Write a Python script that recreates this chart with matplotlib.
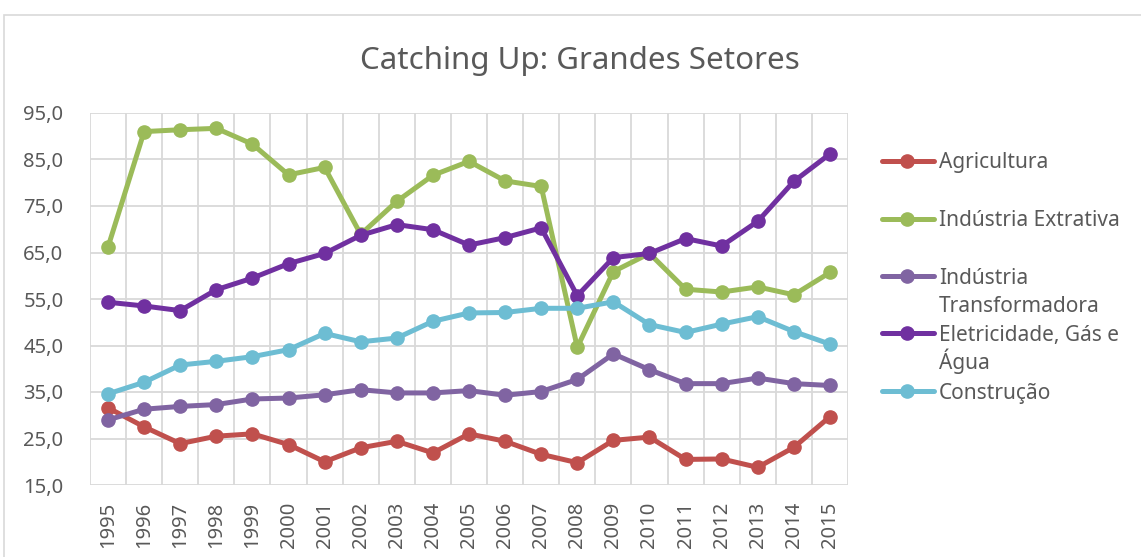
import matplotlib
matplotlib.use("Agg")
import matplotlib.pyplot as plt
from matplotlib.patches import Rectangle
from matplotlib.lines import Line2D

years = [str(y) for y in range(1995, 2016)]

agricultura = [31.6, 27.5, 23.9, 25.5, 26.0, 23.7, 20.0, 23.0, 24.4, 21.9, 26.0,
               24.4, 21.6, 19.8, 24.6, 25.3, 20.5, 20.6, 18.8, 23.1, 29.7]
extrativa = [66.2, 91.0, 91.4, 91.7, 88.3, 81.7, 83.3, 68.9, 76.0, 81.6, 84.6,
             80.4, 79.2, 44.6, 60.9, 64.8, 57.1, 56.5, 57.6, 55.9, 60.7]
transformadora = [29.0, 31.3, 31.9, 32.3, 33.5, 33.7, 34.4, 35.5, 34.8, 34.8, 35.3,
                  34.3, 35.1, 37.7, 43.2, 39.8, 36.8, 36.8, 38.0, 36.8, 36.4]
eletricidade = [54.3, 53.5, 52.5, 57.0, 59.5, 62.6, 64.8, 68.7, 71.0, 69.9, 66.6,
                68.2, 70.3, 55.7, 63.9, 64.8, 68.0, 66.4, 71.7, 80.3, 86.2]
construcao = [34.6, 37.1, 40.8, 41.6, 42.6, 44.1, 47.6, 45.8, 46.6, 50.2, 52.0,
              52.1, 53.0, 53.0, 54.4, 49.5, 47.8, 49.6, 51.2, 48.0, 45.3]

series_names = ["Agricultura", "Indústria Extrativa", "Indústria\nTransformadora",
                "Eletricidade, Gás e\nÁgua", "Construção"]
series_values = [agricultura, extrativa, transformadora, eletricidade, construcao]
colors = ["#C0504D", "#9BBB59", "#8064A2", "#7030A0", "#6DBDD3"]

yticks = [15, 25, 35, 45, 55, 65, 75, 85, 95]
ytick_labels = ["15,0", "25,0", "35,0", "45,0", "55,0", "65,0", "75,0", "85,0", "95,0"]

plt.rcParams['font.family'] = ['Noto Sans', 'DejaVu Sans']
text_color = "#595959"
grid_color = "#D9D9D9"

W, H = 1141, 557
fig = plt.figure(figsize=(W / 100, H / 100), dpi=100)
# outer chart border
fig.patches.append(Rectangle((4 / W, -0.1), 1.2, (H - 14.5) / H + 0.1,
                             transform=fig.transFigure, fill=False,
                             edgecolor=grid_color, linewidth=1.2))

ax = fig.add_axes([90 / W, (H - 485) / H, (848 - 90) / W, (485 - 113) / H])
x = list(range(len(years)))
for name, vals, c in zip(series_names, series_values, colors):
    ax.plot(x, vals, color=c, linewidth=3.6, marker='o', markersize=9.5,
            label=name, solid_capstyle='round', solid_joinstyle='round')

ax.set_xlim(-0.5, len(years) - 0.5)
ax.set_ylim(15, 95)
ax.set_yticks(yticks)
ax.set_yticklabels(ytick_labels)
ax.set_xticks(x)
ax.set_xticklabels(years, rotation=90)

for k in range(len(years) + 1):
    ax.axvline(k - 0.5, color=grid_color, linewidth=1.3, zorder=0)
for yv in yticks:
    ax.axhline(yv, color=grid_color, linewidth=1.3, zorder=0)

for s in ax.spines.values():
    s.set_visible(False)
ax.tick_params(axis='both', length=0, labelsize=14.5, colors=text_color)
ax.tick_params(axis='y', pad=19)
ax.tick_params(axis='x', pad=12)

fig.text(580 / W, 1 - 61 / H, "Catching Up: Grandes Setores", ha='center', va='center',
         fontsize=22.5, color=text_color)

# legend drawn manually (Excel-like spacing)
legend_first_line_y = [161, 219, 276, 333, 391]
line_step = 29
for name, c, yy in zip(series_names, colors, legend_first_line_y):
    yf = 1 - yy / H
    fig.add_artist(Line2D([882 / W, 934 / W], [yf, yf], transform=fig.transFigure,
                          color=c, linewidth=3.6, solid_capstyle='round'))
    fig.add_artist(Line2D([907 / W], [yf], transform=fig.transFigure, color=c,
                          marker='o', markersize=9.5, linestyle='none'))
    for i, part in enumerate(name.split("\n")):
        fig.text(939 / W, 1 - (yy + 7.5 + i * line_step) / H, part, ha='left',
                 va='baseline', fontsize=15, color=text_color)

fig.savefig("out.png", dpi=100)
